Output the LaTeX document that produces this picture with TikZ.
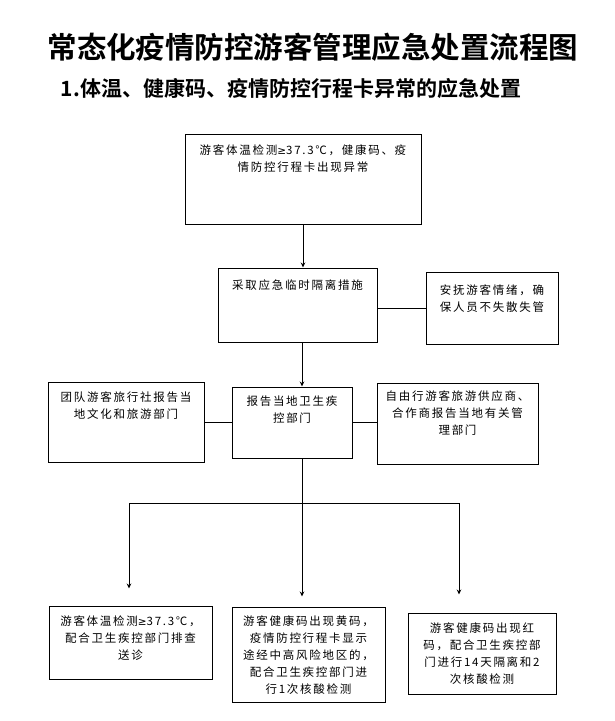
\documentclass[tikz,border=0pt]{standalone}
\usepackage{fontspec}
\newfontfamily\cjk[LetterSpace=15]{Noto Sans CJK SC}
\newfontfamily\cjkbold{Noto Sans CJK SC Bold}
\newfontfamily\symf{DejaVu Sans}
\newcommand{\gesign}{{\symf\fontsize{10.5}{17}\selectfont ≥}}
\usetikzlibrary{arrows.meta,positioning}
\tikzset{
  box/.style={draw, line width=1pt, inner sep=0pt},
  txt/.style={align=center, inner sep=0pt, font=\cjk\fontsize{11.5}{17}\selectfont},
  link/.style={line width=.9pt}
}
\begin{document}
\begin{tikzpicture}[>={Stealth[length=5pt,width=4.5pt]}, x=1pt, y=-1pt]
\useasboundingbox[fill=white] (0,0) rectangle (614,721);
\node (title) at (313,47) {\cjkbold\fontsize{29.5}{32}\selectfont 常态化疫情防控游客管理应急处置流程图};
\node (sub) at (291,88) {\cjkbold\fontsize{21}{24}\selectfont 1.体温、健康码、疫情防控行程卡异常的应急处置};

\node[box, minimum width=236pt, minimum height=90pt] (b1) at (303,179) {};
\node[box, minimum width=159pt, minimum height=74pt] (b2) at (297.5,305) {};
\node[box, minimum width=132pt, minimum height=72pt] (b3) at (492,308) {};
\node[box, minimum width=120pt, minimum height=71pt] (b4) at (292,422.5) {};
\node[box, minimum width=156pt, minimum height=80pt] (b5) at (126,422) {};
\node[box, minimum width=161pt, minimum height=81pt] (b6) at (457.5,423.5) {};
\node[box, minimum width=163pt, minimum height=73pt] (b7) at (130.5,642.5) {};
\node[box, minimum width=153pt, minimum height=95pt] (b8) at (308.5,654.5) {};
\node[box, minimum width=148pt, minimum height=81pt] (b9) at (482,653.5) {};

\node[txt, below=11pt of b1.north] (t1) {游客体温检测\gesign37.3℃，健康码、疫\\情防控行程卡出现异常};
\node[txt, below=12pt of b2.north] (t2) {采取应急临时隔离措施};
\node[txt, below=13pt of b3.north] (t3) {安抚游客情绪，确\\保人员不失散失管};
\node[txt, below=9pt of b4.north] (t4) {报告当地卫生疾\\控部门};
\node[txt, below=10pt of b5.north] (t5) {团队游客旅行社报告当\\地文化和旅游部门};
\node[txt, below=8pt of b6.north] (t6) {自由行游客旅游供应商、\\合作商报告当地有关管\\理部门};
\node[txt, below=10pt of b7.north] (t7) {游客体温检测\gesign37.3℃，\\配合卫生疾控部门排查\\送诊};
\node[txt, below=9pt of b8.north] (t8) {游客健康码出现黄码，\\疫情防控行程卡显示\\途经中高风险地区的，\\配合卫生疾控部门进\\行1次核酸检测};
\node[txt, below=10pt of b9.north] (t9) {游客健康码出现红\\码，配合卫生疾控部\\门进行14天隔离和2\\次核酸检测};

\coordinate (bus) at (302,503);
\coordinate (busL) at (129,503);
\coordinate (busR) at (459,503);

\draw[link,->] (b1.south) -- (b1.south |- b2.north);
\draw[link,->] (b2.south -| bus) -- (bus |- b4.north);
\draw[link] (b2.east |- b3.west) -- (b3.west);
\draw[link] (b5.east) -- (b5.east -| b4.west);
\draw[link] (b4.east) -- (b4.east -| b6.west);
\draw[link] (b4.south -| bus) -- (bus);
\draw[link] (busL) -- (busR);
\draw[link,->] (busL) -- ([yshift=17pt]b7.north -| busL);
\draw[link,->] (bus) -- ([yshift=10pt]b8.north -| bus);
\draw[link,->] (busR) -- ([yshift=18pt]b9.north -| busR);
\end{tikzpicture}
\end{document}
